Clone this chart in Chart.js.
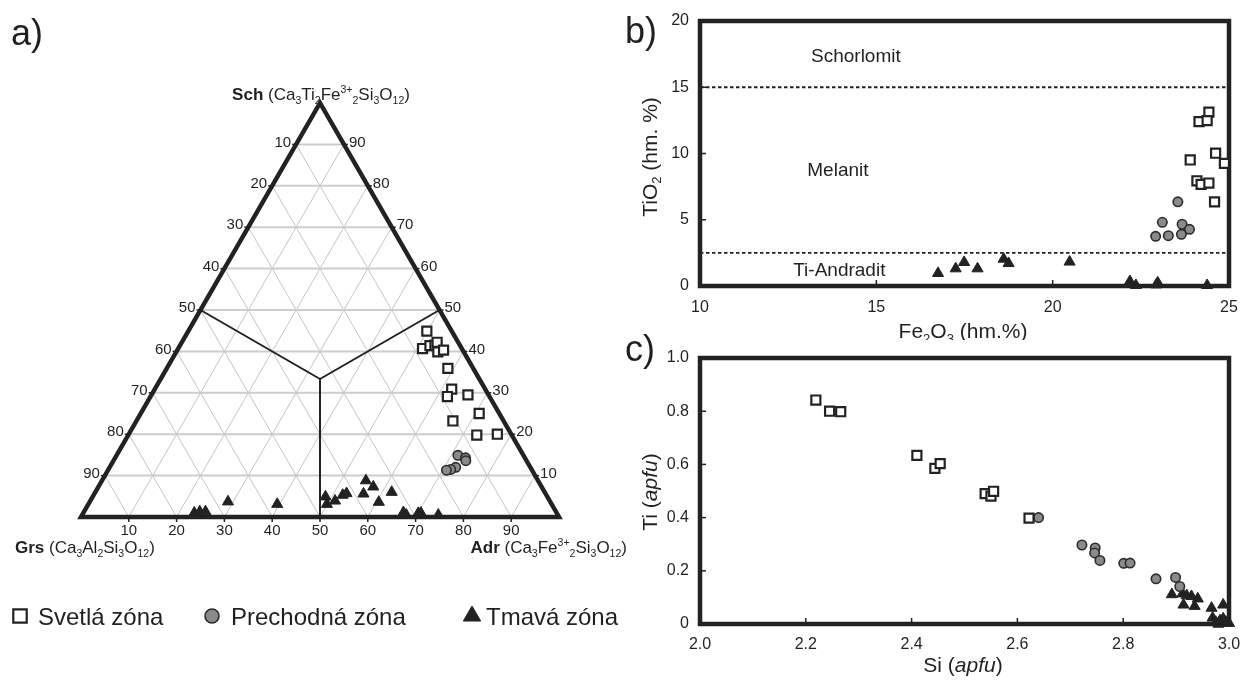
<!DOCTYPE html>
<html>
<head>
<meta charset="utf-8">
<script src="https://cdn.jsdelivr.net/npm/chart.js@4.4.0/dist/chart.umd.min.js"></script>
<style>
body{margin:0;background:#fff;}
#wrap{position:relative;width:1255px;height:681px;overflow:hidden;background:#fff;}
canvas{position:absolute;}
#tern{left:0;top:0;}
#cb{left:620px;top:0;}
#cc{left:620px;top:320px;}
</style>
</head>
<body>
<div id="wrap">
<canvas id="tern" width="640" height="681"></canvas>
<canvas id="cb" width="635" height="340"></canvas>
<canvas id="cc" width="635" height="361"></canvas>
</div>
<script>
// ---- a) ternary diagram, values in % (Grs = 100 - Sch - Adr)
const ternSvetlaSch = [44.9, 40.7, 41.4, 41.5, 42.2, 39.9, 40.3, 35.9, 30.9, 29.1, 29.5, 25.0, 23.2, 19.8, 20.0]
const ternSvetlaAdr = [49.9, 51.1, 52.3, 53.3, 53.4, 54.7, 55.7, 58.8, 62.1, 62.1, 66.2, 70.8, 66.2, 72.9, 77.1]
const ternPrechSch = [14.9, 14.3, 13.6, 12.0, 11.5, 11.3]
const ternPrechAdr = [71.4, 73.3, 73.7, 72.4, 71.6, 70.8]
const ternTmavaSch = [1.0, 1.3, 1.3, 3.7, 3.1, 4.9, 3.1, 3.9, 5.3, 5.7, 8.8, 5.6, 7.3, 3.6, 6.0, 1.1, 0.5, 0.9, 1.0, 0.5]
const ternTmavaAdr = [23.2, 24.2, 25.4, 28.9, 39.5, 48.7, 49.9, 51.2, 52.1, 52.7, 55.2, 56.3, 57.5, 60.5, 62.0, 66.9, 67.8, 70.1, 70.6, 74.5]
const ternTicks = [10, 20, 30, 40, 50, 60, 70, 80, 90]

// ---- b) Fe2O3 vs TiO2 (hm.%)
const bSvetlaFe = [24.43, 24.15, 24.38, 24.62, 24.87, 23.90, 24.09, 24.21, 24.43, 24.59]
const bSvetlaTi = [13.12, 12.41, 12.48, 10.02, 9.26, 9.51, 7.94, 7.67, 7.77, 6.35]
const bPrechFe = [23.55, 23.11, 23.67, 23.88, 23.65, 23.28, 22.92]
const bPrechTi = [6.35, 4.81, 4.66, 4.28, 3.90, 3.80, 3.75]
const bTmavaFe = [16.75, 17.25, 17.49, 17.87, 18.61, 18.75, 20.48, 22.19, 22.36, 22.98, 22.94, 24.38]
const bTmavaTi = [0.96, 1.31, 1.79, 1.31, 2.04, 1.71, 1.82, 0.35, 0.05, 0.25, 0.10, 0.05]
const bZoneNames = ['Schorlomit', 'Melanit', 'Ti-Andradit']
const bZoneLimits = [15, 2.5]

// ---- c) Si vs Ti (apfu)
const cSvetlaSi = [2.219, 2.245, 2.266, 2.410, 2.444, 2.454, 2.539, 2.550, 2.555, 2.622]
const cSvetlaTi = [0.842, 0.800, 0.798, 0.634, 0.585, 0.603, 0.490, 0.481, 0.499, 0.398]
const cPrechSi = [2.640, 2.722, 2.747, 2.746, 2.756, 2.801, 2.813, 2.862, 2.899, 2.907]
const cPrechTi = [0.400, 0.297, 0.286, 0.267, 0.239, 0.228, 0.229, 0.170, 0.175, 0.141]
const cTmavaSi = [2.892, 2.914, 2.912, 2.920, 2.929, 2.941, 2.935, 2.967, 2.989, 2.969, 2.975, 2.983, 2.989, 2.994, 3.000, 2.980]
const cTmavaTi = [0.111, 0.072, 0.114, 0.107, 0.104, 0.095, 0.067, 0.060, 0.072, 0.023, 0.007, 0.013, 0.020, 0.007, 0.003, 0.000]

const zoneLabels = ['Svetlá zóna', 'Prechodná zóna', 'Tmavá zóna']

const FONT = '"Liberation Sans", Arial, Helvetica, sans-serif'
const INK = '#231f20'
const H = Math.sqrt(3) / 2 * 100

const styles = [
  {pointStyle: 'rect', pointRadius: 6.4, pointBackgroundColor: '#fff', pointBorderColor: '#222', pointBorderWidth: 2.2},
  {pointStyle: 'circle', pointRadius: 4.7, pointBackgroundColor: '#8a8a8a', pointBorderColor: '#2b2b2b', pointBorderWidth: 1.6},
  {pointStyle: 'triangle', pointRadius: 6.4, pointBackgroundColor: '#222', pointBorderColor: '#222', pointBorderWidth: 1}
]

const pts = (xs, ys) => xs.map((v, i) => ({x: v, y: ys[i]}))
// ternary -> cartesian (side = 100)
const ternPts = (sch, adr) => sch.map((s, i) => ({x: adr[i] + s / 2, y: s * H / 100}))

// text with bold / italic / sub / sup pieces
function richText(ctx, parts, x, y, size, align) {
  const segs = parts.map(([t, k]) => {
    const small = k == 'sub' || k == 'sup'
    const s = small ? size * 0.62 : size
    const font = (k == 'b' ? 'bold ' : k == 'i' ? 'italic ' : '') + s + 'px ' + FONT
    ctx.font = font
    return {t, font, w: ctx.measureText(t).width, dy: k == 'sub' ? size * 0.22 : k == 'sup' ? -size * 0.42 : 0}
  })
  const total = segs.reduce((a, s) => a + s.w, 0)
  let cx = align == 'center' ? x - total / 2 : align == 'right' ? x - total : x
  ctx.textAlign = 'left'
  ctx.textBaseline = 'alphabetic'
  segs.forEach(s => { ctx.font = s.font; ctx.fillText(s.t, cx, y + s.dy); cx += s.w })
}

function line(ctx, a, b) {
  ctx.beginPath(); ctx.moveTo(a[0], a[1]); ctx.lineTo(b[0], b[1]); ctx.stroke()
}

// ---------------- ternary plugin
const ternaryPlugin = {
  id: 'ternary',
  beforeDatasetsDraw(chart) {
    const {ctx, scales: {x, y}} = chart
    const P = (sch, adr) => [x.getPixelForValue(adr + sch / 2), y.getPixelForValue(sch * H / 100)]
    ctx.save()
    // grid
    ternTicks.forEach(k => {
      ctx.strokeStyle = '#cdcdcd'; ctx.lineWidth = 2
      line(ctx, P(k, 0), P(k, 100 - k))
      ctx.strokeStyle = '#c4c4c4'; ctx.lineWidth = 1
      line(ctx, P(0, k), P(100 - k, k))
      line(ctx, P(0, 100 - k), P(100 - k, 0))
    })
    // field boundaries
    ctx.strokeStyle = '#222'; ctx.lineWidth = 2
    const c = P(100 / 3, 100 / 3)
    line(ctx, c, P(50, 0)); line(ctx, c, P(50, 50)); line(ctx, c, P(0, 50))
    // outline
    ctx.lineWidth = 4.5; ctx.lineJoin = 'miter'
    ctx.beginPath()
    const a = P(0, 0), b = P(0, 100), t = P(100, 0)
    ctx.moveTo(a[0], a[1]); ctx.lineTo(b[0], b[1]); ctx.lineTo(t[0], t[1]); ctx.closePath(); ctx.stroke()
    // ticks + labels
    ctx.lineWidth = 1.5
    ctx.fillStyle = INK
    ctx.font = '15px ' + FONT
    ternTicks.forEach(k => {
      const pb = P(0, k)
      line(ctx, [pb[0], pb[1]], [pb[0], pb[1] + 5])
      ctx.textAlign = 'center'; ctx.textBaseline = 'middle'
      ctx.fillText(String(k), pb[0], pb[1] + 14)
      const pl = P(100 - k, 0)
      line(ctx, [pl[0] - 4, pl[1]], [pl[0] + 2, pl[1]])
      ctx.textAlign = 'right'
      ctx.fillText(String(k), pl[0] - 5, pl[1] - 2)
      const pr = P(k, 100 - k)
      line(ctx, [pr[0] - 2, pr[1]], [pr[0] + 4, pr[1]])
      ctx.textAlign = 'left'
      ctx.fillText(String(k), pr[0] + 5, pr[1] - 2)
    })
    ctx.restore()
  },
  afterDraw(chart) {
    const {ctx} = chart
    ctx.save()
    ctx.fillStyle = INK
    richText(ctx, [['Sch', 'b'], [' (Ca', ''], ['3', 'sub'], ['Ti', ''], ['2', 'sub'], ['Fe', ''], ['3+', 'sup'], ['2', 'sub'],
      ['Si', ''], ['3', 'sub'], ['O', ''], ['12', 'sub'], [')', '']], 321, 100, 17, 'center')
    richText(ctx, [['Grs', 'b'], [' (Ca', ''], ['3', 'sub'], ['Al', ''], ['2', 'sub'], ['Si', ''], ['3', 'sub'], ['O', ''], ['12', 'sub'], [')', '']],
      15, 553, 17, 'left')
    richText(ctx, [['Adr', 'b'], [' (Ca', ''], ['3', 'sub'], ['Fe', ''], ['3+', 'sup'], ['2', 'sub'], ['Si', ''], ['3', 'sub'], ['O', ''], ['12', 'sub'], [')', '']],
      627, 553, 17, 'right')
    ctx.font = '36px ' + FONT
    ctx.textAlign = 'left'; ctx.textBaseline = 'alphabetic'
    ctx.fillText('a)', 11, 45)
    // legend
    const mx = [20, 212, 472], tx = [38, 231, 486], legSize = [9.5, 7, 10]
    chart.data.datasets.forEach((ds, i) => {
      ctx.fillStyle = ds.pointBackgroundColor
      ctx.strokeStyle = ds.pointBorderColor
      ctx.lineWidth = ds.pointBorderWidth
      Chart.helpers.drawPoint(ctx, {pointStyle: ds.pointStyle, rotation: 0, radius: legSize[i], borderWidth: ds.pointBorderWidth}, mx[i], 616)
      ctx.fillStyle = INK
      ctx.font = '24px ' + FONT
      ctx.textAlign = 'left'; ctx.textBaseline = 'alphabetic'
      ctx.fillText(ds.label, tx[i], 625)
    })
    ctx.restore()
  }
}

new Chart(document.getElementById('tern'), {
  type: 'scatter',
  data: {datasets: [
    Object.assign({label: zoneLabels[0], data: ternPts(ternSvetlaSch, ternSvetlaAdr), clip: false}, styles[0]),
    Object.assign({label: zoneLabels[1], data: ternPts(ternPrechSch, ternPrechAdr), clip: false}, styles[1]),
    Object.assign({label: zoneLabels[2], data: ternPts(ternTmavaSch, ternTmavaAdr), clip: false}, styles[2])
  ]},
  options: {
    responsive: false, animation: false, events: [],
    layout: {padding: {left: 81, right: 81, top: 103, bottom: 164}},
    plugins: {legend: {display: false}, tooltip: {enabled: false}},
    scales: {
      x: {type: 'linear', min: 0, max: 100, display: false},
      y: {type: 'linear', min: 0, max: H, display: false}
    }
  },
  plugins: [ternaryPlugin]
})

// ---------------- framed xy panels
function framePlugin(opts) {
  return {
    id: 'frame' + opts.letter,
    beforeDatasetsDraw(chart) {
      const {ctx, chartArea: ca, scales: {x, y}} = chart
      ctx.save()
      ctx.strokeStyle = '#222'
      // inward ticks
      ctx.lineWidth = 1.5
      x.ticks.forEach(t => {
        if (t.value <= x.min || t.value >= x.max) return
        const px = x.getPixelForValue(t.value)
        line(ctx, [px, ca.bottom], [px, ca.bottom - 6])
      })
      y.ticks.forEach(t => {
        if (t.value <= y.min || t.value >= y.max) return
        const py = y.getPixelForValue(t.value)
        line(ctx, [ca.left, py], [ca.left + 6, py])
      })
      if (opts.extra) opts.extra(chart)
      ctx.lineWidth = 4.5
      ctx.strokeRect(ca.left, ca.top, ca.right - ca.left, ca.bottom - ca.top)
      ctx.restore()
    },
    afterDraw(chart) {
      const {ctx} = chart
      ctx.save()
      ctx.fillStyle = INK
      ctx.font = '36px ' + FONT
      ctx.textAlign = 'left'; ctx.textBaseline = 'alphabetic'
      ctx.fillText(opts.letter + ')', 5, opts.letterY)
      richText(ctx, opts.xTitle, 343, opts.xTitleY, 21, 'center')
      ctx.translate(29, opts.yTitleY)
      ctx.rotate(-Math.PI / 2)
      richText(ctx, opts.yTitle, 0, 7.5, 21, 'center')
      ctx.restore()
    }
  }
}

function axisOpts(min, max, step, fit, pad, decimals) {
  return {
    type: 'linear', min, max,
    ticks: {stepSize: step, padding: pad, color: INK, font: {family: FONT, size: 16},
      callback: v => (v == 0 ? '0' : decimals ? v.toFixed(decimals) : String(v))},
    grid: {display: false, drawTicks: false},
    border: {display: false},
    afterFit: fit
  }
}

function panelDatasets(sets) {
  return sets.map((d, i) => Object.assign({label: zoneLabels[i], data: d, clip: false}, styles[i]))
}

new Chart(document.getElementById('cb'), {
  type: 'scatter',
  data: {datasets: panelDatasets([pts(bSvetlaFe, bSvetlaTi), pts(bPrechFe, bPrechTi), pts(bTmavaFe, bTmavaTi)])},
  options: {
    responsive: false, animation: false, events: [],
    layout: {padding: {left: 0, right: 26, top: 21, bottom: 0}},
    plugins: {legend: {display: false}, tooltip: {enabled: false}},
    scales: {
      x: axisOpts(10, 25, 5, s => { s.height = 54 }, 12, 0),
      y: axisOpts(0, 20, 5, s => { s.width = 80 }, 11, 0)
    }
  },
  plugins: [framePlugin({
    letter: 'b', letterY: 43,
    xTitle: [['Fe', ''], ['2', 'sub'], ['O', ''], ['3', 'sub'], [' (hm.%)', '']], xTitleY: 338,
    yTitle: [['TiO', ''], ['2', 'sub'], [' (hm. %)', '']], yTitleY: 157,
    extra(chart) {
      const {ctx, chartArea: ca, scales: {x, y}} = chart
      ctx.save()
      ctx.lineWidth = 1.8
      ctx.setLineDash([3.5, 2.5])
      bZoneLimits.forEach(v => line(ctx, [ca.left, y.getPixelForValue(v)], [ca.right, y.getPixelForValue(v)]))
      ctx.setLineDash([])
      ctx.fillStyle = INK
      ctx.font = '19px ' + FONT
      ctx.textAlign = 'center'; ctx.textBaseline = 'middle'
      const at = [[14.42, 17.3], [13.91, 8.67], [13.95, 1.15]]
      bZoneNames.forEach((n, i) => ctx.fillText(n, x.getPixelForValue(at[i][0]), y.getPixelForValue(at[i][1])))
      ctx.restore()
    }
  })]
})

new Chart(document.getElementById('cc'), {
  type: 'scatter',
  data: {datasets: panelDatasets([pts(cSvetlaSi, cSvetlaTi), pts(cPrechSi, cPrechTi), pts(cTmavaSi, cTmavaTi)])},
  options: {
    responsive: false, animation: false, events: [],
    layout: {padding: {left: 0, right: 26, top: 38, bottom: 0}},
    plugins: {legend: {display: false}, tooltip: {enabled: false}},
    scales: {
      x: axisOpts(2, 3, 0.2, s => { s.height = 57 }, 11, 1),
      y: axisOpts(0, 1, 0.2, s => { s.width = 80 }, 11, 1)
    }
  },
  plugins: [framePlugin({
    letter: 'c', letterY: 41,
    xTitle: [['Si (', ''], ['apfu', 'i'], [')', '']], xTitleY: 352,
    yTitle: [['Ti (', ''], ['apfu', 'i'], [')', '']], yTitleY: 172
  })]
})
</script>
</body>
</html>
